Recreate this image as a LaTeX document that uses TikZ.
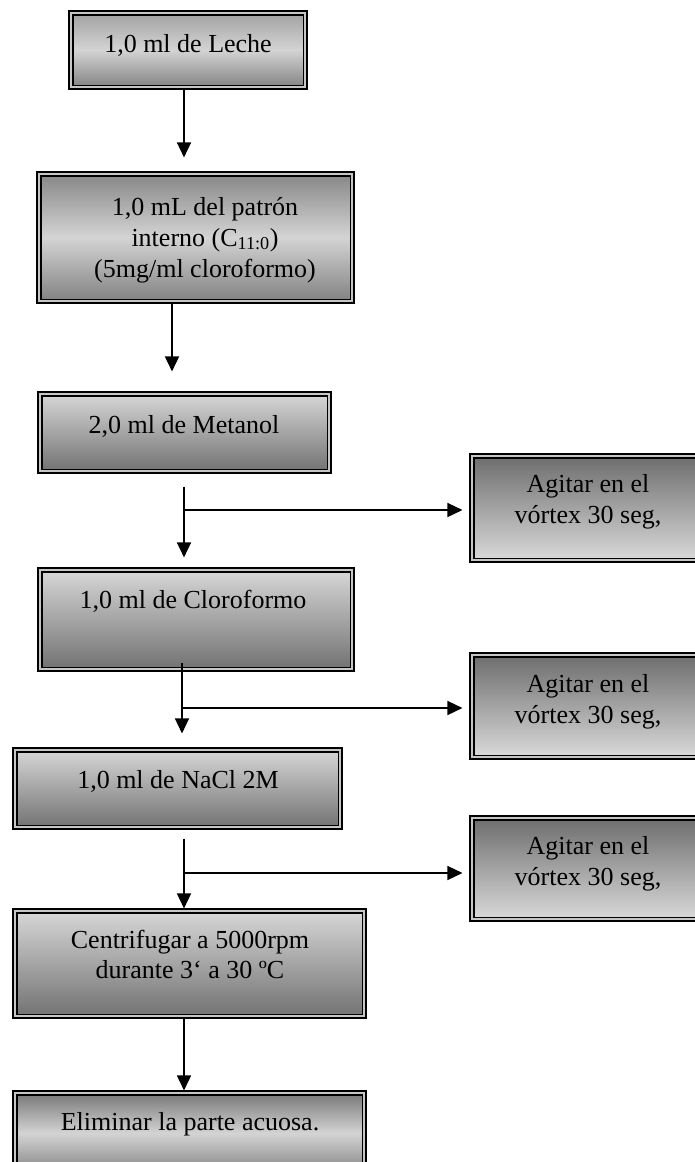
\documentclass[tikz,border=0pt]{standalone}
\usepackage{fontspec}
\setmainfont{Liberation Serif}
\usetikzlibrary{arrows.meta}
\begin{document}
\begin{tikzpicture}[x=1pt,y=-1pt,
  box/.style={draw=black, line width=1.1pt, rectangle, inner sep=0pt,
    path picture={
      \draw[line width=1.6pt, gray!45]
        ([shift={(2.2pt,-2.2pt)}]path picture bounding box.north west) rectangle
        ([shift={(-2.2pt,2.2pt)}]path picture bounding box.south east);
      \draw[line width=1.2pt, black]
        ([shift={(3.9pt,-3.9pt)}]path picture bounding box.north west) rectangle
        ([shift={(-3.9pt,3.9pt)}]path picture bounding box.south east);
    }},
  downshade/.style={top color=gray!30, bottom color=gray!112},
  upshade/.style={top color=black!58, bottom color=gray!28},
  midshade/.style={top color=#1, bottom color=black!50, middle color=gray!34},
  txt/.style={anchor=base, inner sep=0pt, font=\fontsize{26}{31}\selectfont},
  arr/.style={line width=1.5pt, -{Triangle[length=15pt,width=14pt]}},
]
\clip (0,0) rectangle (695,1162);
\fill[white] (0,0) rectangle (695,1162);

% boxes
\node[box, midshade=gray!75, minimum width=238pt, minimum height=78pt] (b1) at (188,50) {};
\node[box, midshade=black!48, minimum width=317pt, minimum height=131pt] (b2) at (195.5,237.5) {};
\node[box, downshade, minimum width=293pt, minimum height=81pt] (b3) at (184.5,432.5) {};
\node[box, downshade, minimum width=316pt, minimum height=103pt] (b4) at (196,619.5) {};
\node[box, downshade, minimum width=329pt, minimum height=81pt] (b5) at (177.5,788.5) {};
\node[box, downshade, minimum width=353pt, minimum height=109pt] (b6) at (189.5,963.5) {};
\node[box, midshade=black!55, minimum width=353pt, minimum height=84pt] (b7) at (189.5,1133) {};
\node[box, upshade, minimum width=236pt, minimum height=108pt] (g1) at (588,508) {};
\node[box, upshade, minimum width=236pt, minimum height=106pt] (g2) at (588,706) {};
\node[box, upshade, minimum width=236pt, minimum height=105pt] (g3) at (588,868.5) {};

% texts
\node[txt] (t1) at (188,52) {1,0 ml de Leche};
\node[txt] (t2a) at (205,215) {1,0 mL del patrón};
\node[txt] (t2b) at (205,246) {interno (C\textsubscript{11:0})};
\node[txt] (t2c) at (205,277) {(5mg/ml cloroformo)};
\node[txt] (t3) at (184,433) {2,0 ml de Metanol};
\node[txt] (t4) at (193,608) {1,0 ml de Cloroformo};
\node[txt] (t5) at (178,788) {1,0 ml de NaCl 2M};
\node[txt] (t6a) at (190,948) {Centrifugar a 5000rpm};
\node[txt] (t6b) at (190,978) {durante 3‘ a 30 ºC};
\node[txt] (t7) at (190,1130) {Eliminar la parte acuosa.};
\node[txt] (g1a) at (588,492) {Agitar en el};
\node[txt] (g1b) at (588,523) {vórtex 30 seg,};
\node[txt] (g2a) at (588,692) {Agitar en el};
\node[txt] (g2b) at (588,723) {vórtex 30 seg,};
\node[txt] (g3a) at (588,854) {Agitar en el};
\node[txt] (g3b) at (588,885) {vórtex 30 seg,};

% junctions
\coordinate (j1) at (184,510);
\coordinate (j2) at (182,708);
\coordinate (j3) at (184,873);

% arrows
\draw[arr, shorten >=14pt] ([xshift=-4pt]b1.south) -- ([xshift=-4pt]b1.south |- b2.north);
\draw[arr, shorten >=20pt] ([xshift=-23.5pt]b2.south) -- ([xshift=-23.5pt]b2.south |- b3.north);
\draw[arr, shorten <=13pt, shorten >=10pt] ([xshift=-0.5pt]b3.south) -- ([xshift=-0.5pt]b3.south |- b4.north);
\draw[arr, shorten >=7pt] (j1) -- (j1 -| g1.west);
\draw[arr, shorten <=-9pt, shorten >=14pt] ([xshift=-14pt]b4.south) -- ([xshift=-14pt]b4.south |- b5.north);
\draw[arr, shorten >=7pt] (j2) -- (j2 -| g2.west);
\draw[arr, shorten <=9pt] ([xshift=6.5pt]b5.south) -- ([xshift=6.5pt]b5.south |- b6.north);
\draw[arr, shorten >=7pt] (j3) -- (j3 -| g3.west);
\draw[arr] ([xshift=-5.5pt]b6.south) -- ([xshift=-5.5pt]b6.south |- b7.north);
\end{tikzpicture}
\end{document}
